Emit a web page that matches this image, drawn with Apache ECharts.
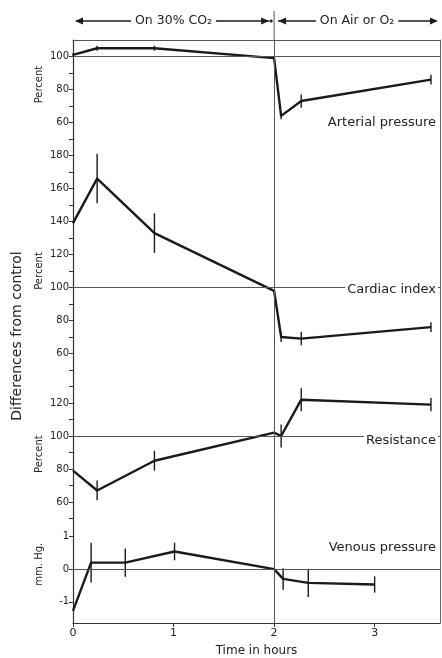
<!DOCTYPE html>
<html><head><meta charset="utf-8">
<script src="https://cdn.jsdelivr.net/npm/echarts@6/dist/echarts.min.js"></script>
<style>html,body{margin:0;padding:0;background:#fff}#c{width:442px;height:658px}</style>
</head><body><div id="c"></div>
<script>
// ---- data ----
const timesA = [0, 0.24, 0.81, 2.0, 2.07, 2.27, 3.56];
const arterial = [101, 105, 105, 99, 64, 73, 86];
const arterialErr = [1, 1.5, 1.5, 0, 2, 4, 3];

const timesC = [0, 0.24, 0.81, 2.0, 2.07, 2.27, 3.56];
const cardiac = [139, 166, 133, 98, 70, 69, 76];
const cardiacErr = [0, 15, 12, 0, 3, 4, 3];

const timesR = [0, 0.24, 0.81, 2.0, 2.07, 2.27, 3.56];
const resistance = [79, 67, 85, 102, 100, 122, 119];
const resistanceErr = [0, 6, 6, 0, 7, 7, 4];

const timesV = [0, 0.18, 0.52, 1.01, 2.0, 2.09, 2.34, 3.0];
const venous = [-1.28, 0.2, 0.2, 0.54, 0, -0.3, -0.42, -0.47];
const venousErr = [0, 0.61, 0.43, 0.27, 0, 0.33, 0.43, 0.25];

const xTickLabels = [0, 1, 2, 3];
const p1Labels = [60, 80, 100];
const p1Ticks = [50, 60, 70, 80, 90, 100];
const p2Labels = [60, 80, 100, 120, 140, 160, 180];
const p2Ticks = [50, 60, 70, 80, 90, 100, 110, 120, 130, 140, 150, 160, 170, 180, 190];
const p3Labels = [60, 80, 100, 120];
const p3Ticks = [50, 60, 70, 80, 90, 100, 110, 120, 130, 140];
const p4Labels = [-1, 0, 1];
const p4Ticks = [-1, 0, 1];

const panelNames = ['Arterial pressure', 'Cardiac index', 'Resistance', 'Venous pressure'];
const unitNames = ['Percent', 'Percent', 'Percent', 'mm. Hg.'];
const refValues = [100, 100, 100, 0];
const switchTime = 2;
const headerLeft = 'On 30% CO₂';
const headerRight = 'On Air or O₂';

// ---- layout ----
const FONT = 'DejaVu Sans';
const INK = '#1a1a1a';
const grids = [
  {left: 73, right: 2, top: 6, height: 34},
  {left: 73, right: 2, top: 40, height: 99},
  {left: 73, right: 2, top: 139, height: 231},
  {left: 73, right: 2, top: 370, height: 148.5},
  {left: 73, right: 2, top: 518.5, height: 106.5}
];
const yRanges = [[0, 1], [50, 110], [50, 190], [50, 140], [-1.65, 1.55]];
const yLabels = [null, p1Labels, p2Labels, p3Labels, p4Labels];
const yTicks = [null, p1Ticks, p2Ticks, p3Ticks, p4Ticks];

const xAxes = grids.map((g, i) => {
  const base = {gridIndex: i, type: 'value', min: 0, max: 3.65, splitLine: {show: false}};
  if (i === 0 || i === 2 || i === 3) return Object.assign(base, {show: false});
  if (i === 1) return Object.assign(base, {
    position: 'top', axisLine: {show: true, lineStyle: {color: '#555', width: 1}},
    axisTick: {show: false}, axisLabel: {show: false}
  });
  return Object.assign(base, {
    position: 'bottom',
    axisLine: {show: true, onZero: false, lineStyle: {color: '#333', width: 1.2}},
    axisTick: {show: true, length: 4, customValues: xTickLabels, lineStyle: {color: '#333'}},
    axisLabel: {show: true, customValues: xTickLabels, fontFamily: FONT, fontSize: 11, color: '#222', margin: 5},
    name: 'Time in hours', nameLocation: 'middle', nameGap: 22,
    nameTextStyle: {fontFamily: FONT, fontSize: 12, color: '#222'}
  });
});

const yAxes = [];
grids.forEach((g, i) => {
  if (i === 0) {
    yAxes.push({gridIndex: 0, type: 'value', min: 0, max: 1, show: false});
    return;
  }
  yAxes.push({
    gridIndex: i, type: 'value', min: yRanges[i][0], max: yRanges[i][1],
    splitLine: {show: false},
    axisLine: {show: true, onZero: false, lineStyle: {color: '#333', width: 1.2}},
    axisTick: {show: true, length: 4, customValues: yTicks[i], lineStyle: {color: '#333'}},
    axisLabel: {show: true, customValues: yLabels[i], fontFamily: FONT, fontSize: 10, color: '#222', margin: 4}
  });
});
// right border axes
for (let i = 1; i < grids.length; i++) {
  yAxes.push({
    gridIndex: i, type: 'value', position: 'right', min: yRanges[i][0], max: yRanges[i][1],
    splitLine: {show: false}, axisTick: {show: false}, axisLabel: {show: false},
    axisLine: {show: true, onZero: false, lineStyle: {color: '#666', width: 1}}
  });
}

const panels = [
  [timesA, arterial, arterialErr],
  [timesC, cardiac, cardiacErr],
  [timesR, resistance, resistanceErr],
  [timesV, venous, venousErr]
];

const series = [];
panels.forEach((p, k) => {
  const gi = k + 1;
  const [t, v, e] = p;
  series.push({
    type: 'line', xAxisIndex: gi, yAxisIndex: gi,
    data: t.map((x, j) => [x, v[j]]),
    symbol: 'none', silent: true, z: 3,
    lineStyle: {color: INK, width: 2.4, join: 'round'},
    markLine: {
      silent: true, symbol: 'none', animation: false,
      label: {show: false},
      lineStyle: {color: '#555', width: 1, type: 'solid'},
      data: [{yAxis: refValues[k]}, {xAxis: switchTime}]
    }
  });
  series.push({
    type: 'custom', xAxisIndex: gi, yAxisIndex: gi, silent: true, z: 4,
    data: t.map((x, j) => [x, v[j], e[j]]),
    renderItem: function (params, api) {
      const x = api.value(0), y = api.value(1), er = api.value(2);
      if (!er) return null;
      const a = api.coord([x, y + er]);
      const b = api.coord([x, y - er]);
      return {type: 'line', shape: {x1: a[0], y1: a[1], x2: b[0], y2: b[1]},
        style: {stroke: INK, lineWidth: 1.4}};
    }
  });
});

const chart = echarts.init(document.getElementById('c'), null, {renderer: 'canvas'});
chart.setOption({
  backgroundColor: '#fff',
  animation: false,
  grid: grids,
  xAxis: xAxes,
  yAxis: yAxes,
  series: series
});

// ---- annotations positioned through the axes ----
function px(g, x, y) { return chart.convertToPixel({xAxisIndex: g, yAxisIndex: g}, [x, y]); }
const gfx = [];
const hy = px(0, 0, 0.5)[1] - 2;
const hx0 = px(0, 0, 0)[0], hx2 = px(0, switchTime, 0)[0], hx3 = px(0, 3.65, 0)[0];
function arrowHead(x, y, dir) {
  return {type: 'polygon', silent: true, shape: {points: [[x, y], [x - dir * 8, y - 3.5], [x - dir * 8, y + 3.5]]},
    style: {fill: INK}};
}
// vertical line in header
gfx.push({type: 'line', silent: true, shape: {x1: hx2, y1: hy - 10, x2: hx2, y2: px(1, 0, 110)[1]},
  style: {stroke: '#555', lineWidth: 1}});
// left header arrow
gfx.push({type: 'line', silent: true, shape: {x1: hx0 + 3, y1: hy, x2: hx2 - 5, y2: hy}, style: {stroke: INK, lineWidth: 1.3}});
gfx.push(arrowHead(hx0 + 2, hy, -1));
gfx.push(arrowHead(hx2 - 5, hy, 1));
gfx.push({type: 'circle', silent: true, shape: {cx: hx2 - 3, cy: hy, r: 1.6}, style: {fill: INK}});
gfx.push({type: 'text', silent: true, style: {text: headerLeft, x: (hx0 + hx2) / 2, y: hy, align: 'center', verticalAlign: 'middle',
  font: '12.5px "DejaVu Sans"', fill: '#222', backgroundColor: '#fff', padding: [0, 4]}});
// right header arrow
gfx.push({type: 'line', silent: true, shape: {x1: hx2 + 4, y1: hy, x2: hx3 - 4, y2: hy}, style: {stroke: INK, lineWidth: 1.3}});
gfx.push(arrowHead(hx2 + 4, hy, -1));
gfx.push(arrowHead(hx3 - 2, hy, 1));
gfx.push({type: 'text', silent: true, style: {text: headerRight, x: (hx2 + hx3) / 2, y: hy, align: 'center', verticalAlign: 'middle',
  font: '12.5px "DejaVu Sans"', fill: '#222', backgroundColor: '#fff', padding: [0, 4]}});

// panel names
const nameVals = [60, 99, 97, 0.65];
panelNames.forEach((n, k) => {
  const y = px(k + 1, 0, nameVals[k])[1];
  gfx.push({type: 'text', silent: true, z: 10, style: {text: n, x: 438, y: y, align: 'right', verticalAlign: 'middle',
    font: '13px "DejaVu Sans"', fill: '#222', backgroundColor: '#fff', padding: [1, 2]}});
});
// unit names
const unitVals = [83, 110, 89, 0.15];
unitNames.forEach((n, k) => {
  const y = px(k + 1, 0, unitVals[k])[1];
  gfx.push({type: 'text', silent: true, x: 39, y: y, rotation: Math.PI / 2,
    style: {text: n, x: 0, y: 0, align: 'center', verticalAlign: 'middle', font: '10px "DejaVu Sans"', fill: '#222'}});
});
// overall y title
gfx.push({type: 'text', silent: true, x: 17, y: 336, rotation: Math.PI / 2,
  style: {text: 'Differences from control', x: 0, y: 0, align: 'center', verticalAlign: 'middle',
    font: '14px "DejaVu Sans"', fill: '#222'}});

chart.setOption({graphic: gfx});
</script>
</body></html>
